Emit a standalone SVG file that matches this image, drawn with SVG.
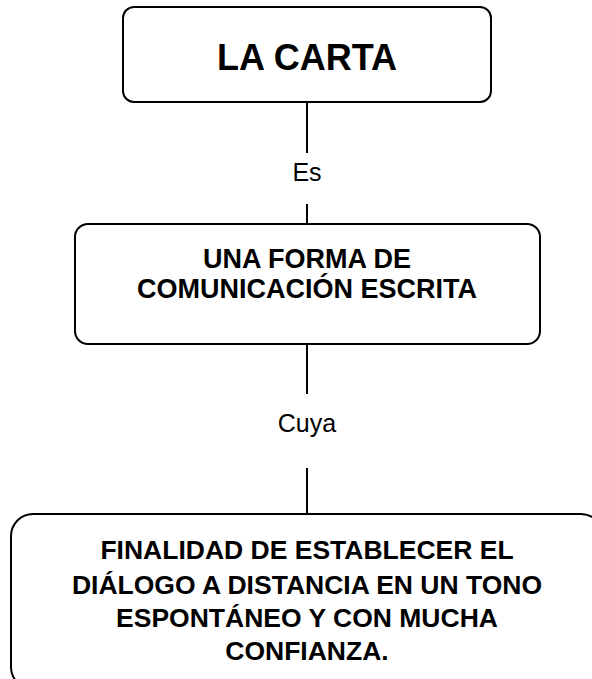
<svg xmlns="http://www.w3.org/2000/svg" width="592" height="679" viewBox="0 0 592 679">
<style>
.box{fill:#fff;stroke:#000;stroke-width:2}
.t{font-family:"Liberation Sans",Arial,sans-serif;font-weight:bold;text-anchor:middle;fill:#000}
.lbl{font-family:"Liberation Sans",Arial,sans-serif;font-size:25px;text-anchor:middle;fill:#000}
.c{stroke:#000;stroke-width:2;fill:none}
</style>
<rect width="592" height="679" fill="#fff"/>
<g id="connectors">
<line class="c" x1="307" y1="102" x2="307" y2="153"/>
<line class="c" x1="307" y1="204" x2="307" y2="224"/>
<line class="c" x1="307" y1="344" x2="307" y2="394"/>
<line class="c" x1="307" y1="468" x2="307" y2="514"/>
<text class="lbl" x="307" y="181">Es</text>
<text class="lbl" x="307" y="432">Cuya</text>
</g>
<g id="node1">
<rect class="box" x="123" y="7" width="368" height="95" rx="11"/>
<text class="t" x="307" y="70" font-size="36">LA CARTA</text>
</g>
<g id="node2">
<rect class="box" x="75" y="224" width="465" height="120" rx="13"/>
<text class="t" x="307" y="268" font-size="27">UNA FORMA DE</text>
<text class="t" x="307" y="298" font-size="27">COMUNICACIÓN ESCRITA</text>
</g>
<g id="node3">
<rect class="box" x="11" y="514" width="592" height="175" rx="22"/>
<text class="t" x="307" y="559" font-size="26.5">FINALIDAD DE ESTABLECER EL</text>
<text class="t" x="307" y="594" font-size="26.5">DIÁLOGO A DISTANCIA EN UN TONO</text>
<text class="t" x="307" y="627" font-size="26.5">ESPONTÁNEO Y CON MUCHA</text>
<text class="t" x="307" y="660" font-size="26.5">CONFIANZA.</text>
</g>
</svg>
